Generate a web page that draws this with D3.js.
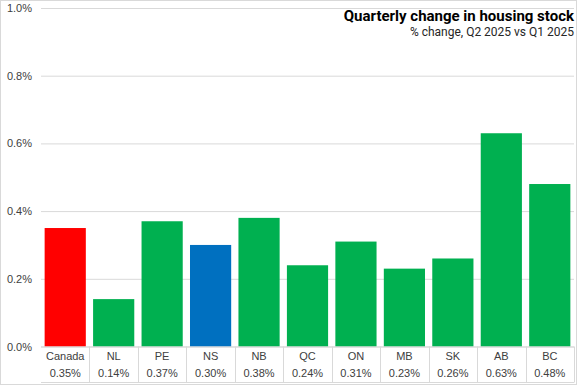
<!DOCTYPE html>
<html>
<head>
<meta charset="utf-8">
<title>Quarterly change in housing stock</title>
<script src="https://cdn.jsdelivr.net/npm/d3@7"></script>
<style>
  body { margin: 0; background: #fff; }
  svg { display: block; font-family: "Liberation Sans Narrow", "Roboto", "Liberation Sans", sans-serif; }
</style>
</head>
<body>
<div id="chart"></div>
<script>
// data
var provinces = ["Canada", "NL", "PE", "NS", "NB", "QC", "ON", "MB", "SK", "AB", "BC"];
var changePct = [0.35, 0.14, 0.37, 0.30, 0.38, 0.24, 0.31, 0.23, 0.26, 0.63, 0.48];
var yTicks = [0, 0.2, 0.4, 0.6, 0.8, 1.0];

var width = 577, height = 385;
// note: can't call it "top", that's window.top
var plotLeft = 41, plotRight = 574, plotTop = 8, plotBottom = 346.5;

var svg = d3.select("#chart").append("svg")
    .attr("width", width).attr("height", height);

// chart border
svg.append("rect").attr("x", 0.5).attr("y", 0.5)
    .attr("width", width - 1).attr("height", height - 1)
    .attr("fill", "none").attr("stroke", "#d9d9d9");

var x = d3.scaleBand().domain(provinces).range([plotLeft, plotRight]).paddingInner(0.15).paddingOuter(0.075);
var y = d3.scaleLinear().domain([0, 1.0]).range([plotBottom, plotTop]);

function barColor(name) {
    if (name == "Canada") return "#ff0000";
    if (name == "NS") return "#0070c0";
    return "#00b050";
}

// gridlines + tick labels
var yAxis = d3.axisLeft(y).tickValues(yTicks)
    .tickFormat(function(d) { return d.toFixed(1) + "%"; })
    .tickSize(-(plotRight - plotLeft)).tickPadding(9);
var gy = svg.append("g").attr("transform", "translate(" + plotLeft + ",0)").call(yAxis);
gy.select(".domain").remove();
gy.selectAll(".tick line").attr("stroke", "#d9d9d9");
gy.selectAll(".tick text").attr("fill", "#404040").style("font-size", "11px")
    .style("font-family", "'Liberation Sans', Arial, sans-serif");

// bars
var data = provinces.map(function(p, i) { return {name: p, value: changePct[i]}; });
svg.selectAll("rect.bar").data(data).enter().append("rect")
    .attr("class", "bar")
    .attr("x", function(d) { return x(d.name); })
    .attr("width", x.bandwidth())
    .attr("y", function(d) { return y(d.value); })
    .attr("height", function(d) { return y(0) - y(d.value); })
    .attr("fill", function(d) { return barColor(d.name); });

// data table under axis
var step = x.step();
var tableBottom = 382.5;
var table = svg.append("g").attr("stroke", "#d9d9d9");
table.append("line").attr("x1", plotLeft).attr("x2", plotRight)
    .attr("y1", y(0) + 0.5).attr("y2", y(0) + 0.5);
table.append("line").attr("x1", plotLeft).attr("x2", plotRight)
    .attr("y1", tableBottom).attr("y2", tableBottom);
provinces.forEach(function(p, i) {
    var xr = Math.round(plotLeft + step * (i + 1)) + 0.5;
    table.append("line").attr("x1", xr).attr("x2", xr)
        .attr("y1", y(0)).attr("y2", tableBottom);
});

var labels = svg.append("g").attr("fill", "#404040")
    .style("font-family", "'Liberation Sans', Arial, sans-serif").style("font-size", "11px")
    .attr("text-anchor", "middle");
labels.selectAll("text.cat").data(data).enter().append("text")
    .attr("class", "cat")
    .attr("x", function(d) { return x(d.name) + x.bandwidth() / 2; })
    .attr("y", 360)
    .text(function(d) { return d.name; });
labels.selectAll("text.val").data(data).enter().append("text")
    .attr("class", "val")
    .attr("x", function(d) { return x(d.name) + x.bandwidth() / 2; })
    .attr("y", 377)
    .text(function(d) { return d.value.toFixed(2) + "%"; });

// titles
svg.append("text").attr("x", 574).attr("y", 21).attr("text-anchor", "end")
    .attr("fill", "#000").style("font-size", "15px").style("font-weight", "bold")
    .text("Quarterly change in housing stock");
svg.append("text").attr("x", 574).attr("y", 36).attr("text-anchor", "end")
    .attr("fill", "#262626").style("font-size", "12px")
    .text("% change, Q2 2025 vs Q1 2025");
</script>
</body>
</html>
